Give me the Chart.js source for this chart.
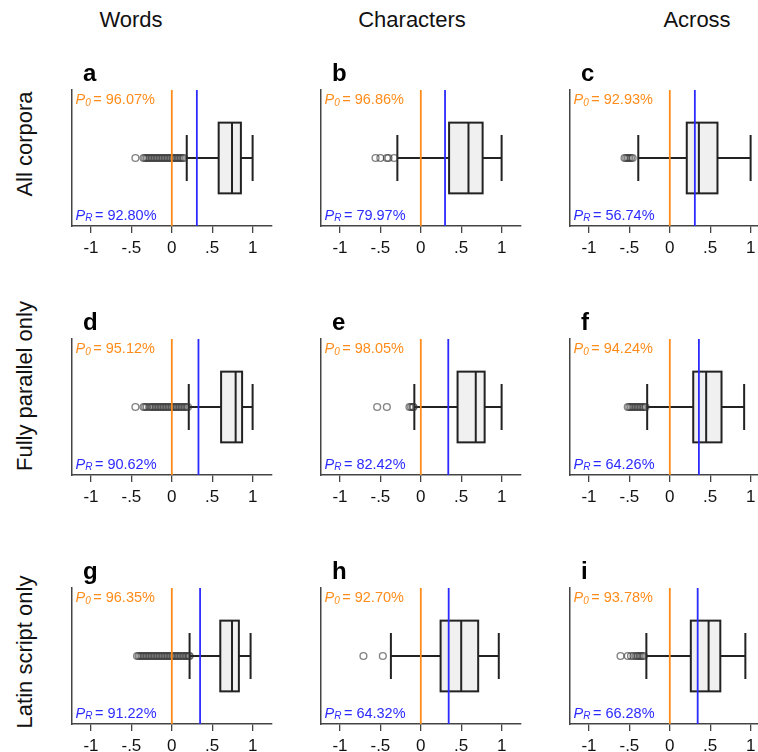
<!DOCTYPE html>
<html>
<head>
<meta charset="utf-8">
<script src="https://cdn.jsdelivr.net/npm/chart.js@4.4.1/dist/chart.umd.min.js"></script>
<style>
  body { margin: 0; background: #fff; width: 758px; height: 752px; position: relative; overflow: hidden;
         font-family: "Liberation Sans", Arial, sans-serif; }
  .lbl { position: absolute; font-size: 22px; color: #111; white-space: nowrap; line-height: 26px; }
  canvas { position: absolute; }
</style>
</head>
<body>
<script>
const colTitles = ['Words', 'Characters', 'Across'];
const rowTitles = ['All corpora', 'Fully parallel only', 'Latin script only'];
const panelLetters = ['a', 'b', 'c', 'd', 'e', 'f', 'g', 'h', 'i'];
const p0Labels = ['96.07%', '96.86%', '92.93%', '95.12%', '98.05%', '94.24%', '96.35%', '92.70%', '93.78%'];
const pRLabels = ['92.80%', '79.97%', '56.74%', '90.62%', '82.42%', '64.26%', '91.22%', '64.32%', '66.28%'];
const randomLine = [0.31, 0.30, 0.31, 0.33, 0.34, 0.36, 0.35, 0.345, 0.345];
const whiskLow = [0.185, -0.29, -0.39, 0.21, -0.08, -0.28, 0.22, -0.37, -0.29];
const q1 = [0.58, 0.35, 0.21, 0.61, 0.455, 0.29, 0.60, 0.245, 0.26];
const median = [0.745, 0.59, 0.36, 0.79, 0.68, 0.45, 0.745, 0.50, 0.48];
const q3 = [0.855, 0.765, 0.59, 0.87, 0.79, 0.64, 0.83, 0.71, 0.625];
const whiskHigh = [1.0, 1.0, 1.0, 1.0, 1.0, 0.92, 0.975, 0.965, 0.935];
const outliers = [
  [-0.45, -0.35, -0.33, -0.31, -0.29, -0.27, -0.25, -0.23, -0.21, -0.19, -0.17, -0.15, -0.13, -0.11, -0.09,
   -0.07, -0.05, -0.03, -0.01, 0.01, 0.03, 0.05, 0.07, 0.09, 0.11, 0.13, 0.15],
  [-0.56, -0.5, -0.42, -0.40, -0.33],
  [-0.56, -0.54, -0.52, -0.50, -0.48, -0.46],
  [-0.45, -0.35, -0.33, -0.31, -0.28, -0.26, -0.24, -0.22, -0.2, -0.18, -0.16, -0.14, -0.12, -0.1, -0.08,
   -0.06, -0.04, -0.02, 0, 0.02, 0.04, 0.06, 0.08, 0.1, 0.12, 0.14, 0.16, 0.18, 0.2],
  [-0.54, -0.42, -0.14, -0.12, -0.1, -0.09],
  [-0.52, -0.50, -0.48, -0.46, -0.44, -0.42, -0.40, -0.38, -0.36, -0.34, -0.32, -0.30],
  [-0.43, -0.41, -0.39, -0.37, -0.35, -0.33, -0.31, -0.29, -0.27, -0.25, -0.23, -0.21, -0.19, -0.17, -0.15,
   -0.13, -0.11, -0.09, -0.07, -0.05, -0.03, -0.01, 0.01, 0.03, 0.05, 0.07, 0.09, 0.11, 0.13, 0.15, 0.17,
   0.19, 0.21, 0.22],
  [-0.71, -0.47],
  [-0.61, -0.52, -0.48, -0.45, -0.42, -0.40, -0.38, -0.36, -0.34, -0.32]
];
const xTicks = [-1, -0.5, 0, 0.5, 1];
const xTickLabels = ['-1', '-.5', '0', '.5', '1'];

const FONT = '"Liberation Sans", Arial, sans-serif';
const ORANGE = '#ff8c1a';
const BLUE = '#2b2bff';
const colLeft = [72, 321, 570];
const rowTop = [90, 338.5, 587.5];

// page titles
const colCenters = [131, 412, 697];
colTitles.forEach((t, i) => {
  const d = document.createElement('div');
  d.className = 'lbl';
  d.textContent = t;
  d.style.left = colCenters[i] + 'px';
  d.style.top = '7px';
  d.style.transform = 'translateX(-50%)';
  document.body.appendChild(d);
});
const rowCenters = [144, 386, 652];
rowTitles.forEach((t, i) => {
  const d = document.createElement('div');
  d.className = 'lbl';
  d.textContent = t;
  d.style.left = '25px';
  d.style.top = rowCenters[i] + 'px';
  d.style.transform = 'translate(-50%, -50%) rotate(-90deg)';
  document.body.appendChild(d);
});

function drawP(ctx, x, y, sub, val, color) {
  ctx.fillStyle = color;
  ctx.textBaseline = 'middle';
  ctx.textAlign = 'left';
  ctx.font = 'italic 14.5px ' + FONT;
  ctx.fillText('P', x, y);
  x += ctx.measureText('P').width;
  ctx.font = 'italic 10px ' + FONT;
  ctx.fillText(sub, x, y + 3);
  x += ctx.measureText(sub).width + 2.5;
  ctx.font = '14.5px ' + FONT;
  ctx.fillText('= ' + val, x, y);
}

const boxPlugin = {
  id: 'boxPlugin',
  beforeDatasetsDraw(c) {
    const i = c.options.plugins.boxPlugin.idx;
    const { ctx } = c;
    const xs = c.scales.x, ys = c.scales.y;
    const yc = ys.getPixelForValue(0.5);
    const bTop = ys.getPixelForValue(0.76), bBot = ys.getPixelForValue(0.24);
    const cTop = ys.getPixelForValue(0.67), cBot = ys.getPixelForValue(0.33);
    const px = (v) => xs.getPixelForValue(v);
    ctx.save();
    ctx.strokeStyle = '#222';
    ctx.lineWidth = 2;
    // whiskers
    ctx.beginPath();
    ctx.moveTo(px(whiskLow[i]), yc); ctx.lineTo(px(q1[i]), yc);
    ctx.moveTo(px(q3[i]), yc); ctx.lineTo(px(whiskHigh[i]), yc);
    ctx.moveTo(px(whiskLow[i]), cTop); ctx.lineTo(px(whiskLow[i]), cBot);
    ctx.moveTo(px(whiskHigh[i]), cTop); ctx.lineTo(px(whiskHigh[i]), cBot);
    ctx.stroke();
    // box
    ctx.fillStyle = '#f0f0f0';
    ctx.fillRect(px(q1[i]), bTop, px(q3[i]) - px(q1[i]), bBot - bTop);
    ctx.strokeRect(px(q1[i]), bTop, px(q3[i]) - px(q1[i]), bBot - bTop);
    ctx.beginPath();
    ctx.moveTo(px(median[i]), bTop); ctx.lineTo(px(median[i]), bBot);
    ctx.stroke();
    ctx.restore();
  },
  afterDatasetsDraw(c) {
    const i = c.options.plugins.boxPlugin.idx;
    const { ctx, chartArea } = c;
    const xs = c.scales.x;
    ctx.save();
    ctx.lineWidth = 1.8;
    ctx.strokeStyle = ORANGE;
    ctx.beginPath();
    ctx.moveTo(xs.getPixelForValue(0), chartArea.top);
    ctx.lineTo(xs.getPixelForValue(0), chartArea.bottom);
    ctx.stroke();
    ctx.strokeStyle = BLUE;
    ctx.beginPath();
    ctx.moveTo(xs.getPixelForValue(randomLine[i]), chartArea.top);
    ctx.lineTo(xs.getPixelForValue(randomLine[i]), chartArea.bottom);
    ctx.stroke();
    // labels
    drawP(ctx, chartArea.left + 3.5, chartArea.top + 10, '0', p0Labels[i], ORANGE);
    drawP(ctx, chartArea.left + 3.5, chartArea.bottom - 10.5, 'R', pRLabels[i], BLUE);
    ctx.fillStyle = '#000';
    ctx.font = 'bold 24px ' + FONT;
    ctx.textBaseline = 'alphabetic';
    ctx.fillText(panelLetters[i], chartArea.left + 11, chartArea.top - 9.5);
    ctx.restore();
  }
};

for (let i = 0; i < 9; i++) {
  const r = Math.floor(i / 3), col = i % 3;
  const cv = document.createElement('canvas');
  cv.width = 215; cv.height = 216;
  cv.style.left = (colLeft[col] - 10) + 'px';
  cv.style.top = (rowTop[r] - 40) + 'px';
  document.body.appendChild(cv);
  new Chart(cv, {
    type: 'scatter',
    data: {
      datasets: [{
        data: outliers[i].map((v) => ({ x: v, y: 0.5 })),
        pointRadius: 3.4,
        pointBorderWidth: 1.4,
        pointBackgroundColor: 'rgba(0,0,0,0)',
        pointBorderColor: 'rgba(50,50,50,0.6)'
      }]
    },
    options: {
      responsive: false,
      animation: false,
      layout: { padding: { left: 10, top: 40, right: 5, bottom: 0 } },
      plugins: { legend: { display: false }, tooltip: { enabled: false }, boxPlugin: { idx: i } },
      scales: {
        x: {
          type: 'linear', min: -1.235, max: 1.235,
          afterBuildTicks: (s) => { s.ticks = xTicks.map((v) => ({ value: v })); },
          afterFit: (s) => { s.height = 40; },
          ticks: {
            callback: (v, idx) => xTickLabels[idx],
            font: { size: 17, family: FONT }, color: '#111', padding: 5,
            maxRotation: 0, autoSkip: false
          },
          grid: { drawOnChartArea: false, drawTicks: true, tickLength: 7, color: '#444', lineWidth: 1.3 },
          border: { display: true, color: '#444', width: 1.5 }
        },
        y: {
          min: 0, max: 1,
          afterFit: (s) => { s.width = 0; },
          ticks: { display: false },
          grid: { display: false },
          border: { display: true, color: '#444', width: 1.5 }
        }
      }
    },
    plugins: [boxPlugin]
  });
}
</script>
</body>
</html>
